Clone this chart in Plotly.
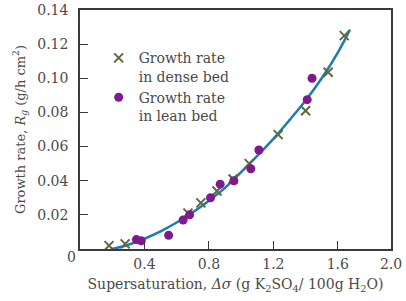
import plotly.graph_objects as go

# Data
dense_x = [0.18, 0.28, 0.67, 0.75, 0.85, 0.95, 1.05, 1.23, 1.40, 1.54, 1.64]
dense_y = [0.002, 0.003, 0.021, 0.027, 0.034, 0.041, 0.050, 0.067, 0.081, 0.1035, 0.125]

lean_x = [0.35, 0.38, 0.55, 0.64, 0.68, 0.81, 0.87, 0.955, 1.06, 1.11, 1.41, 1.44]
lean_y = [0.0055, 0.0048, 0.008, 0.017, 0.020, 0.030, 0.038, 0.040, 0.047, 0.058, 0.0875, 0.100]

curve_x = [0.20, 0.30, 0.40, 0.50, 0.60, 0.70, 0.80, 0.90, 1.00, 1.10, 1.20, 1.30, 1.40, 1.50, 1.60, 1.675]
curve_y = [0.000, 0.0025, 0.0060, 0.0103, 0.0155, 0.0215, 0.0283, 0.0358, 0.0450, 0.0545, 0.0645, 0.0755, 0.0870, 0.1000, 0.1150, 0.1285]

x_tickvals = [0.4, 0.8, 1.2, 1.6, 1.93]
x_ticktext = ["0.4", "0.8", "1.2", "1.6", "2.0"]
y_tickvals = [0.02, 0.04, 0.06, 0.08, 0.10, 0.12, 0.14]
y_ticktext = ["0.02", "0.04", "0.06", "0.08", "0.10", "0.12", "0.14"]

FONT = "DejaVu Serif"
TXT = "#4a4a4a"
AX = "#3a3a3a"

fig = go.Figure()
fig.add_trace(go.Scatter(
    x=curve_x, y=curve_y, mode="lines", line=dict(color="#1f7ab2", width=2.5, shape="spline"),
    showlegend=False, hoverinfo="skip"))
fig.add_trace(go.Scatter(
    x=dense_x, y=dense_y, mode="markers", name="Growth rate<br>in dense bed",
    marker=dict(symbol="x-thin", size=9, line=dict(color="#5b6b3c", width=2), color="#5b6b3c")))
fig.add_trace(go.Scatter(
    x=lean_x, y=lean_y, mode="markers", name="Growth rate<br>in lean bed",
    marker=dict(symbol="circle", size=9, color="#7d1a8c")))

fig.update_layout(
    width=406, height=301,
    margin=dict(l=80, r=15, t=10, b=52, autoexpand=False),
    paper_bgcolor="white", plot_bgcolor="white",
    font=dict(family=FONT, color=TXT, size=13),
    legend=dict(x=0.06, y=0.865, xanchor="left", yanchor="top", bgcolor="rgba(0,0,0,0)",
                font=dict(size=14, color=TXT), valign="top", tracegroupgap=0,
                itemwidth=30),
    annotations=[dict(text="0", xref="paper", yref="paper", x=-0.028, y=-0.035,
                      xanchor="center", yanchor="middle",
                      showarrow=False, font=dict(size=14, color=TXT))],
)
fig.update_xaxes(
    automargin=False,
    range=[0, 1.93], tickvals=x_tickvals, ticktext=x_ticktext,
    ticks="inside", ticklen=8, tickcolor=AX, tickwidth=1.2,
    showline=True, linecolor=AX, linewidth=1.5, mirror=True, showgrid=False, zeroline=False,
    tickfont=dict(size=14, color=TXT), ticklabelstandoff=1, ticklabeloverflow="allow",
    title=dict(text="Supersaturation, <i>Δσ</i> (g K<sub>2</sub>SO<sub>4</sub>/ 100g H<sub>2</sub>O)",
               font=dict(size=14, color=TXT), standoff=9))
fig.update_yaxes(
    automargin=False,
    range=[0, 0.14], tickvals=y_tickvals, ticktext=y_ticktext,
    ticks="inside", ticklen=8, tickcolor=AX, tickwidth=1.2,
    showline=True, linecolor=AX, linewidth=1.5, mirror=True, showgrid=False, zeroline=False,
    tickfont=dict(size=14, color=TXT), ticklabelstandoff=7, ticklabeloverflow="allow",
    title=dict(text="Growth rate, <i>R<sub>g</sub></i> (g/h cm<sup>2</sup>)",
               font=dict(size=13, color=TXT), standoff=9))

fig.write_html("out.html", config={"displayModeBar": False},
               post_script="document.body.style.margin='0';")
